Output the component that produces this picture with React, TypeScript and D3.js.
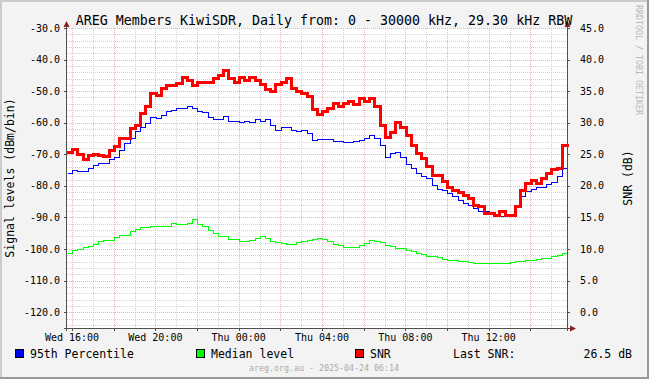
import React from "react";
import * as d3 from "d3";

// ---- data (15-minute steps starting at the left edge of the plot) ----
const p95: number[] = [
  -75.9, -74.9, -75.2, -75.4, -74.2, -73.3, -72.6, -72.6, -71.5, -70.7,
  -68.5, -66.4, -64.7, -62.7, -61.2, -60.1, -58.2, -58.5, -57.5, -56.4,
  -55.9, -55.3, -55.3, -54.6, -55.3, -56.4, -56.7, -58.2, -58.7, -58.7,
  -58.0, -59.6, -59.6, -59.8, -59.6, -59.8, -58.7, -59.6, -58.8, -60.6,
  -62.2, -61.2, -61.3, -62.4, -62.7, -62.2, -63.2, -65.4, -65.1, -65.1,
  -65.2, -65.9, -65.9, -66.2, -66.2, -65.9, -65.4, -64.8, -63.8, -64.8,
  -67.0, -70.7, -69.6, -69.4, -70.7, -73.0, -74.3, -75.9, -77.0, -77.5,
  -79.6, -81.0, -81.2, -82.2, -83.3, -84.4, -85.4, -86.2, -87.0, -88.1,
  -88.1, -88.8, -89.1, -89.4, -89.4, -89.1, -86.5, -83.3, -81.7, -80.9,
  -80.2, -80.2, -79.3, -78.9, -77.0, -74.3,
];

const median: number[] = [
  -101.2, -100.4, -100.0, -99.3, -98.9, -98.3, -97.6, -97.0, -97.0, -96.2,
  -95.5, -95.5, -94.4, -93.6, -93.0, -93.0, -92.6, -92.6, -92.8, -92.8,
  -91.6, -92.0, -92.0, -91.7, -90.5, -92.0, -92.8, -93.9, -94.9, -96.0,
  -96.0, -96.7, -96.7, -97.3, -97.3, -97.0, -96.5, -96.0, -96.5, -97.6,
  -97.9, -98.1, -98.3, -98.3, -97.9, -97.4, -97.0, -96.7, -96.5, -96.7,
  -97.6, -98.3, -98.6, -99.2, -99.3, -99.2, -98.6, -98.1, -97.0, -97.3,
  -97.9, -98.6, -98.9, -99.7, -99.7, -100.4, -100.7, -101.2, -101.5, -102.1,
  -102.3, -102.6, -103.1, -103.4, -103.6, -103.7, -103.9, -104.1, -104.4, -104.4,
  -104.4, -104.5, -104.4, -104.4, -104.4, -104.1, -103.9, -103.9, -103.6, -103.4,
  -103.1, -102.8, -102.8, -102.3, -101.8, -101.1,
];

const snr: number[] = [
  25.3, 25.9, 25.1, 24.3, 24.9, 25.1, 24.9, 24.7, 25.7, 26.3,
  27.6, 27.6, 29.2, 29.7, 31.5, 32.6, 34.7, 34.4, 35.5, 36.0,
  35.9, 36.3, 37.3, 36.7, 35.9, 36.5, 36.5, 36.5, 37.1, 37.6,
  38.4, 37.1, 36.5, 37.3, 36.8, 37.2, 36.8, 36.2, 35.3, 35.0,
  36.2, 36.5, 37.1, 35.5, 35.0, 34.7, 34.2, 32.1, 31.4, 31.8,
  32.3, 33.1, 32.6, 33.1, 33.4, 32.9, 33.9, 33.4, 33.9, 32.6,
  29.7, 27.8, 28.6, 30.1, 29.4, 28.1, 26.5, 25.2, 24.4, 23.1,
  21.8, 21.8, 20.7, 19.9, 19.4, 19.1, 18.6, 18.1, 17.0, 16.8,
  15.7, 15.7, 15.4, 16.0, 15.4, 15.4, 16.8, 19.4, 20.5, 21.0,
  20.5, 21.3, 22.0, 22.6, 22.8, 26.5,
];

const leftTicks: number[] = [-120, -110, -100, -90, -80, -70, -60, -50, -40, -30];
const rightTicks: number[] = [0, 5, 10, 15, 20, 25, 30, 35, 40, 45];
const legendItems: string[] = ["95th Percentile", "Median level", "SNR"];
const legendColors: string[] = ["#0000FF", "#00FF00", "#FF0000"];
const lastSnrLabel = "Last SNR:";
const lastSnrValue = "26.5 dB";
const titleText = "AREG Members KiwiSDR, Daily from: 0 - 30000 kHz, 29.30 kHz RBW";
const footerText = "areg.org.au - 2025-04-24 06:14";

const startTime = new Date(2025, 3, 23, 15, 45, 36);
const endTime = new Date(2025, 3, 24, 15, 45, 36);
const stepMs = 15 * 60 * 1000;

const W = 649;
const H = 379;
const L = 67;
const R = 567;
const T = 28;
const B = 328;
const MONO = "'DejaVu Sans Mono', monospace";

export default function App() {
  const x = d3.scaleTime().domain([startTime, endTime]).range([L, R]);
  const y = d3.scaleLinear().domain([-125, -30]).range([B, T]);
  const yS = d3.scaleLinear().domain([-2.5, 45]).range([B, T]);

  const mk = (vals: number[]) => {
    const pts = vals.map((v, i) => ({ t: new Date(startTime.getTime() + i * stepMs), v }));
    pts.push({ t: endTime, v: vals[vals.length - 1] });
    return pts;
  };
  const lineL = d3
    .line<{ t: Date; v: number }>()
    .x((d) => Math.round(x(d.t)) + 0.5)
    .y((d) => Math.round(y(d.v)) + 0.5)
    .curve(d3.curveStepAfter);
  const lineS = d3
    .line<{ t: Date; v: number }>()
    .x((d) => Math.round(x(d.t)) + 0.5)
    .y((d) => Math.round(yS(d.v)) + 0.5)
    .curve(d3.curveStepAfter);

  const hourTicks = d3.timeHour.every(1)!.range(startTime, endTime);
  const minorV = hourTicks.filter((d) => d.getHours() % 2 !== 0);
  const majorV = hourTicks.filter((d) => d.getHours() % 2 === 0);
  const labelV = hourTicks.filter((d) => d.getHours() % 4 === 0);
  const fmt = d3.timeFormat("%a %H:%M");

  const minorH = d3.range(-124, -29, 2).filter((v) => v % 10 !== 0);
  const majorH = leftTicks;

  const px = (v: number) => Math.round(v) + 0.5;

  return (
    <svg
      width={W}
      height={H}
      style={{ position: "absolute", left: 0, top: 0 }}
      fontFamily={MONO}
    >
      <rect x={0} y={0} width={W} height={H} fill="#F3F3F3" />
      {/* 3D frame */}
      <rect x={0} y={0} width={W} height={2} fill="#CBCBCB" />
      <rect x={0} y={0} width={2} height={H} fill="#CBCBCB" />
      <rect x={0} y={H - 2} width={W} height={2} fill="#999999" />
      <rect x={W - 2} y={0} width={2} height={H} fill="#999999" />

      <rect x={L} y={T} width={R - L} height={B - T} fill="#FFFFFF" />

      <g shapeRendering="crispEdges" strokeWidth={1} strokeDasharray="1,1">
        {minorV.map((d, i) => (
          <line key={"mv" + i} x1={px(x(d))} x2={px(x(d))} y1={T} y2={B} stroke="#D2D2D2" />
        ))}
        {minorH.map((v, i) => (
          <line key={"mh" + i} x1={L} x2={R} y1={px(y(v))} y2={px(y(v))} stroke="#D2D2D2" />
        ))}
        {majorV.map((d, i) => (
          <line key={"Mv" + i} x1={px(x(d))} x2={px(x(d))} y1={T} y2={B} stroke="#F2ADAD" />
        ))}
        {majorH.map((v, i) => (
          <line key={"Mh" + i} x1={L} x2={R} y1={px(y(v))} y2={px(y(v))} stroke="#F2ADAD" />
        ))}
      </g>

      {/* data */}
      <g shapeRendering="crispEdges" fill="none">
        <path d={lineL(mk(median)) || ""} stroke="#00FF00" strokeWidth={1} />
        <path d={lineL(mk(p95)) || ""} stroke="#0000FF" strokeWidth={1} />
        <path d={lineS(mk(snr)) || ""} stroke="#FF0000" strokeWidth={3} strokeLinejoin="miter" strokeLinecap="square" />
      </g>

      {/* axes */}
      <g shapeRendering="crispEdges" stroke="#505050" strokeWidth={1}>
        <line x1={L - 0.5} x2={L - 0.5} y1={T - 4} y2={B + 3} />
        <line x1={R + 0.5} x2={R + 0.5} y1={T - 4} y2={B + 3} />
        <line x1={L - 3} x2={R + 4} y1={B + 0.5} y2={B + 0.5} />
        {majorV.map((d, i) => (
          <line key={"tv" + i} x1={px(x(d))} x2={px(x(d))} y1={B} y2={B + 3} />
        ))}
        {majorH.map((v, i) => (
          <line key={"tl" + i} x1={L - 3} x2={L} y1={px(y(v))} y2={px(y(v))} />
        ))}
        {majorH.map((v, i) => (
          <line key={"tr" + i} x1={R} x2={R + 3} y1={px(y(v))} y2={px(y(v))} />
        ))}
      </g>
      <g fill="#8B1E1E">
        <path d={`M${L - 3.5},${T - 1} L${L - 0.5},${T - 7} L${L + 2.5},${T - 1} Z`} />
        <path d={`M${R - 2.5},${T - 1} L${R + 0.5},${T - 7} L${R + 3.5},${T - 1} Z`} />
        <path d={`M${R + 3},${B - 2.5} L${R + 9},${B + 0.5} L${R + 3},${B + 3.5} Z`} />
      </g>

      {/* tick labels */}
      <g fontSize={10} fill="#000">
        {leftTicks.map((v, i) => (
          <text key={"ll" + i} x={60} y={y(v)} dy="0.36em" textAnchor="end">
            {v.toFixed(1)}
          </text>
        ))}
        {rightTicks.map((v, i) => (
          <text key={"rl" + i} x={580} y={yS(v)} dy="0.36em" textAnchor="start">
            {v.toFixed(1)}
          </text>
        ))}
        {labelV.map((d, i) => (
          <text key={"xl" + i} x={x(d)} y={341} textAnchor="middle">
            {fmt(d)}
          </text>
        ))}
      </g>

      {/* title */}
      <text x={324} y={25} fontSize={13.3} textAnchor="middle" fill="#000">
        {titleText}
      </text>

      {/* axis titles */}
      <text
        transform={`translate(14,178) rotate(-90)`}
        fontSize={11.5}
        textAnchor="middle"
        fill="#000"
      >
        Signal levels (dBm/bin)
      </text>
      <text
        transform={`translate(632,178) rotate(-90)`}
        fontSize={11.5}
        textAnchor="middle"
        fill="#000"
      >
        SNR (dB)
      </text>

      {/* watermark */}
      <text
        transform={`translate(636,60) rotate(90)`}
        fontSize={8.3}
        textAnchor="middle"
        fill="#B8B8B8"
      >
        RRDTOOL / TOBI OETIKER
      </text>

      {/* legend */}
      {legendItems.map((name, i) => {
        const lx = [15, 196, 355][i];
        return (
          <g key={"lg" + i}>
            <rect x={lx + 0.5} y={349.5} width={8} height={8} fill={legendColors[i]} stroke="#000" strokeWidth={1} shapeRendering="crispEdges" />
            <text x={lx + 15} y={358} fontSize={11.5} fill="#000">
              {name}
            </text>
          </g>
        );
      })}
      <text x={453} y={358} fontSize={11.5} fill="#000">
        {lastSnrLabel}
      </text>
      <text x={632} y={358} fontSize={11.5} fill="#000" textAnchor="end">
        {lastSnrValue}
      </text>

      {/* footer */}
      <text x={324} y={371} fontSize={8.3} textAnchor="middle" fill="#AAAAAA">
        {footerText}
      </text>
    </svg>
  );
}
